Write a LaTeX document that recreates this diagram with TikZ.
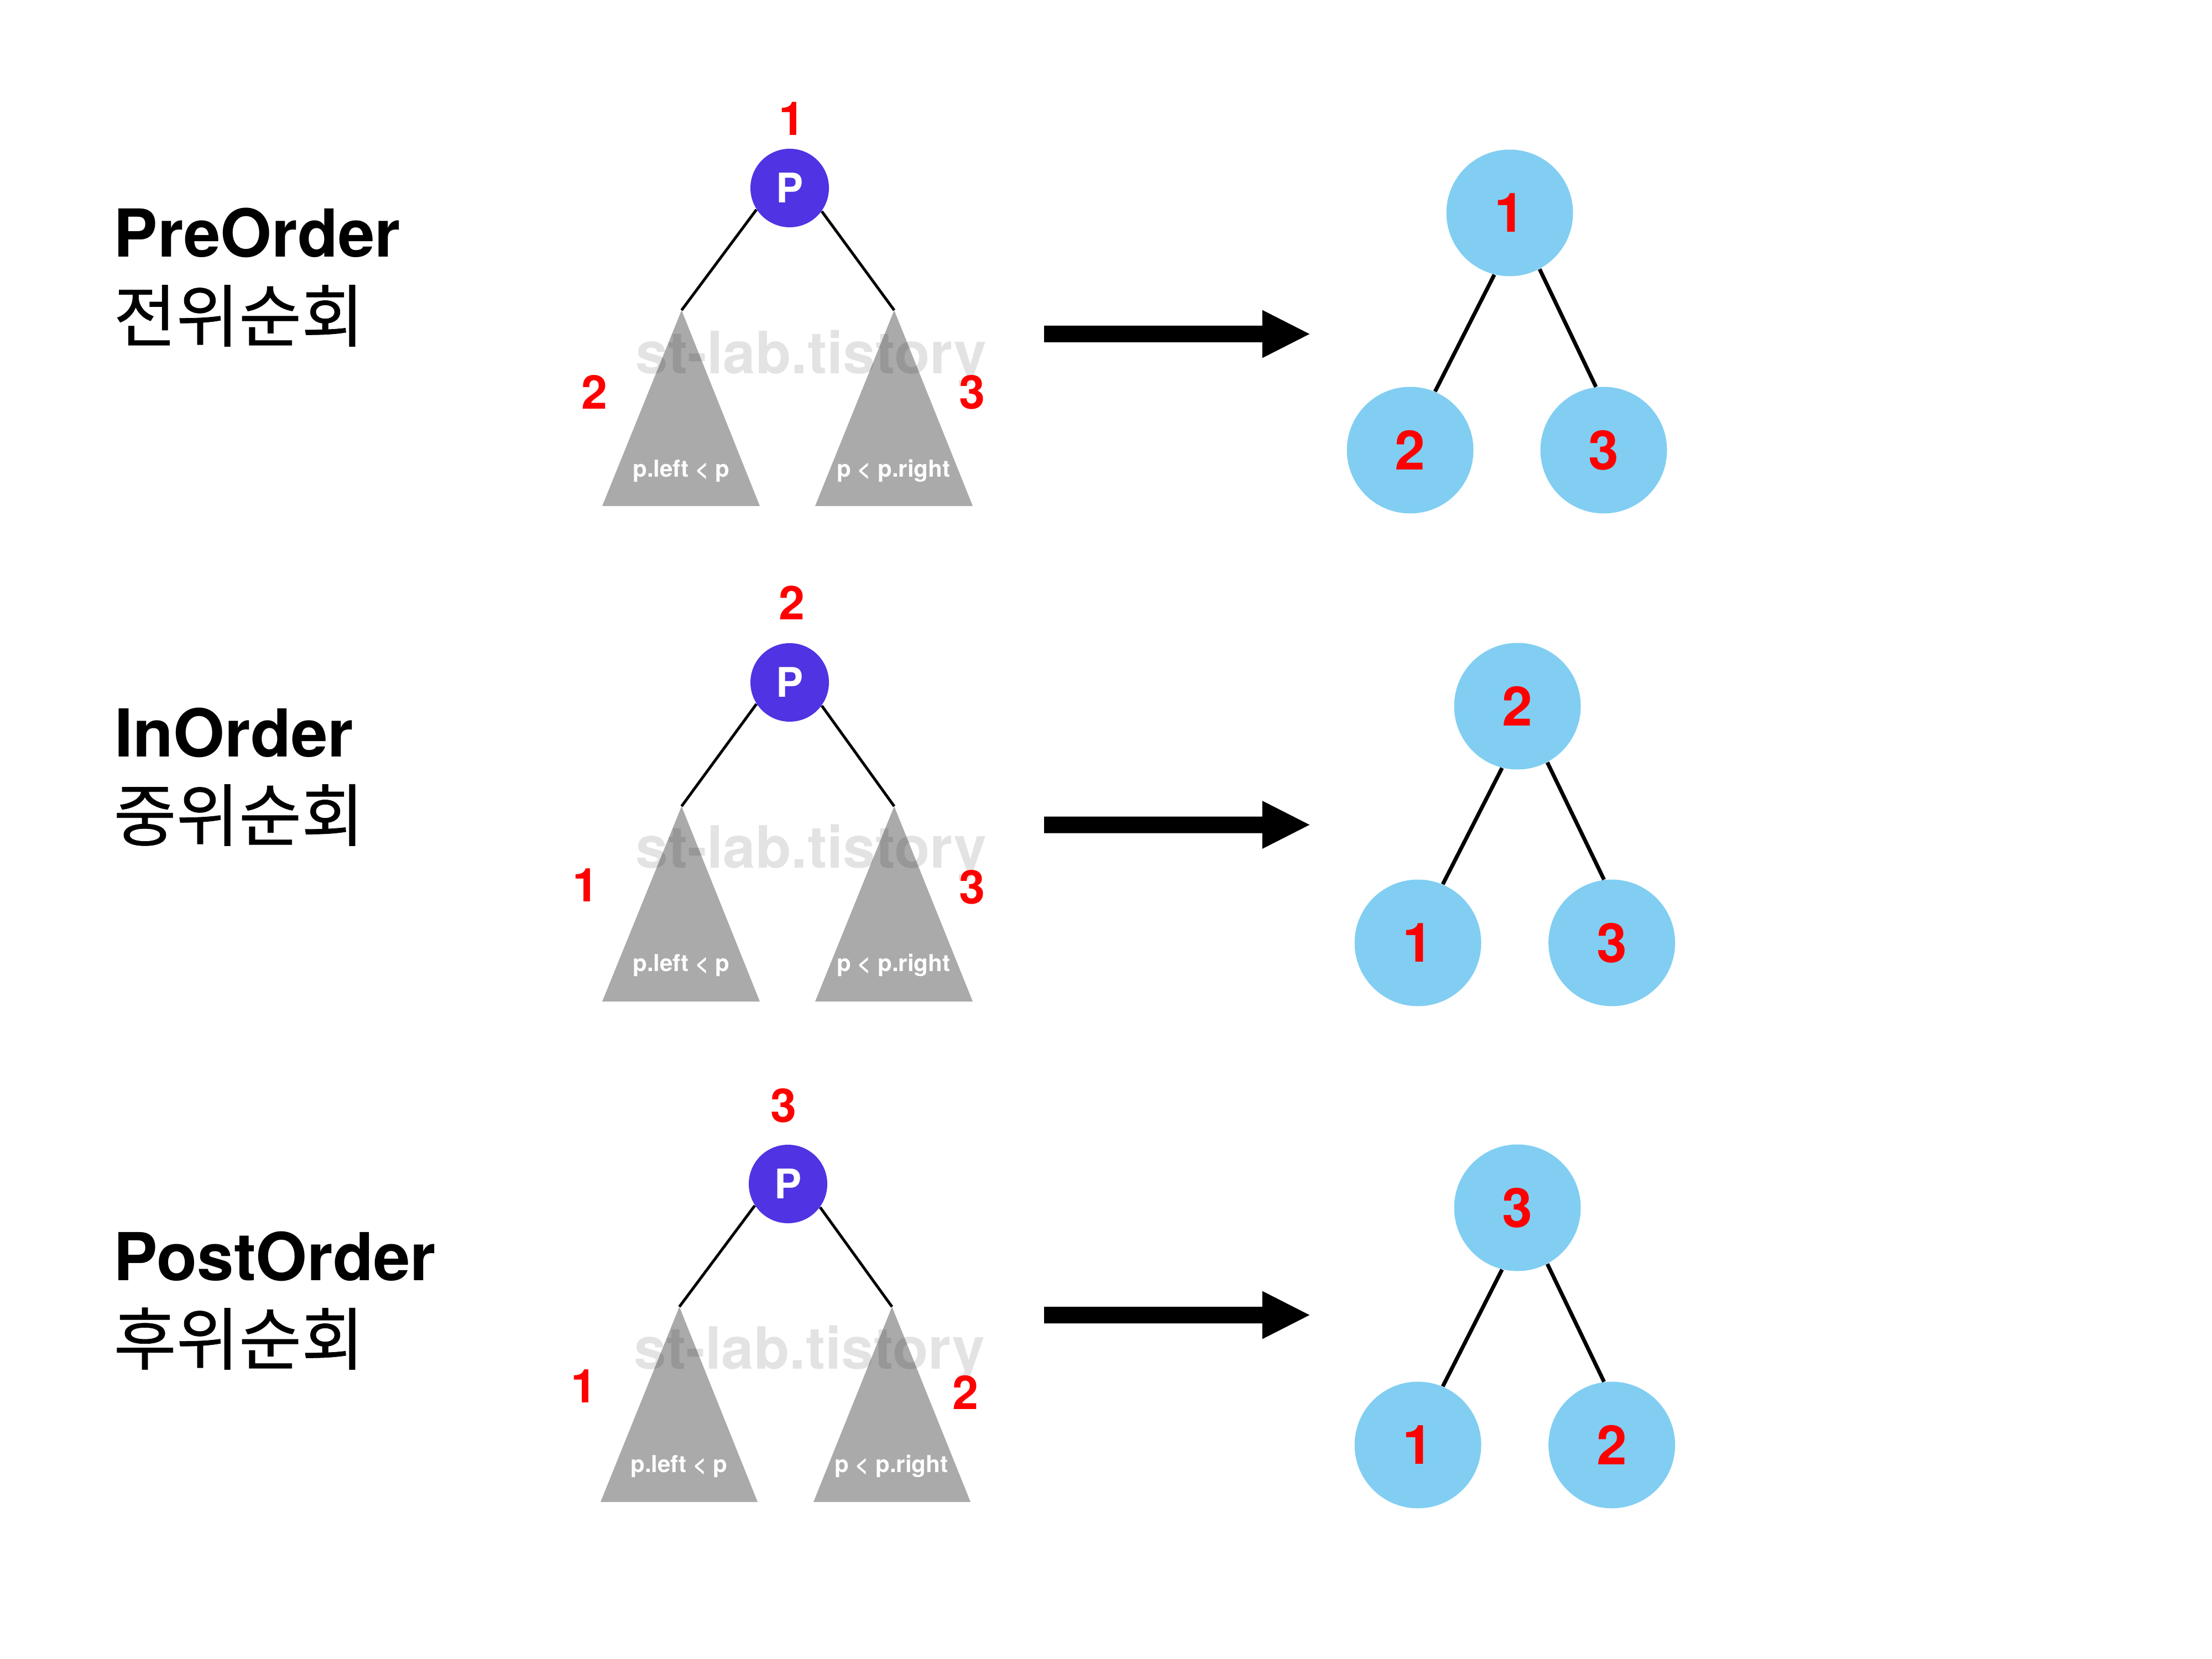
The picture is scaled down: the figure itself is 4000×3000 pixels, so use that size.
\documentclass[tikz,border=0pt]{standalone}
\usepackage{fontspec}
\setmainfont{TeX Gyre Heros}
\newfontfamily\kr[FakeBold=0.6]{Noto Sans CJK KR}
\definecolor{pcol}{HTML}{5033E2}
\definecolor{tricol}{HTML}{AAAAAA}
\definecolor{skycol}{HTML}{81CEF2}
\definecolor{ordred}{HTML}{FF0000}
\begin{document}
\begin{tikzpicture}[x=0.1mm,y=-0.1mm,
  title/.style={anchor=base west, inner sep=0pt, font=\fontsize{34pt}{40pt}\selectfont\bfseries},
  ktitle/.style={anchor=base west, inner sep=0pt, font=\fontsize{35pt}{40pt}\selectfont\kr},
  pnode/.style={circle, fill=pcol, minimum size=14.2mm, inner sep=0pt, text=white, font=\fontsize{21pt}{24pt}\selectfont\bfseries},
  ordlabel/.style={text=ordred, inner sep=0pt, font=\fontsize{24pt}{28pt}\selectfont\bfseries},
  subtxt/.style={anchor=base, inner sep=0pt, text=white, font=\fontsize{12pt}{14pt}\selectfont\bfseries},
  wmark/.style={anchor=base west, inner sep=0pt, text=black, text opacity=0.11, font=\fontsize{30pt}{36pt}\selectfont\bfseries},
  pedge/.style={line width=0.5mm, black},
  subtree/.style={fill=tricol},
  tnode/.style={circle, fill=skycol, minimum size=22.9mm, inner sep=0pt, text=ordred, font=\fontsize{28pt}{32pt}\selectfont\bfseries},
  tedge/.style={line width=0.7mm, black},
  bigarrow/.style={fill=black}
]
\useasboundingbox (0,0) rectangle (4000,3000);

% ---------- titles ----------
\node[title]  (t1) at (205,465)  {PreOrder};
\node[ktitle] (k1) at (205,617)  {전위순회};
\node[title]  (t2) at (207,1368) {InOrder};
\node[ktitle] (k2) at (205,1520) {중위순회};
\node[title]  (t3) at (205,2315) {PostOrder};
\node[ktitle] (k3) at (205,2467) {후위순회};

% ---------- row 1 ----------
\node[pnode] (P1) at (1428,340) {P};
\coordinate (LA1) at (1232.5,561);
\coordinate (RA1) at (1617,561);
\draw[pedge] (P1.213) -- (LA1);
\draw[pedge] (P1.324) -- (RA1);
\fill[subtree] (1089,915) -- (LA1) -- (1374,915) -- cycle;
\fill[subtree] (1474,915) -- (RA1) -- (1759,915) -- cycle;
\node[wmark] (w1) at (1149,675.5) {st-lab.tistory};
\node[subtxt] (s1l) at (1232,862) {p.left < p};
\node[subtxt] (s1r) at (1616,862) {p < p.right};
\node[ordlabel] (n1t) at (1432,215) {1};
\node[ordlabel] (n1l) at (1075,709) {2};
\node[ordlabel] (n1r) at (1758,709) {3};
\coordinate (A1s) at (1888,604);
\coordinate (A1e) at (2368,604);
\fill[bigarrow] (A1s) ++(0,-15) -- ++(394.5,0) -- ++(0,-28.5) -- (A1e) -- ++(-85.5,43.5) -- ++(0,-28.5) -- ++(-394.5,0) -- cycle;
\node[tnode] (T1) at (2730,385) {1};
\node[tnode] (L1) at (2550,814) {2};
\node[tnode] (R1) at (2900,814) {3};
\draw[tedge] (T1.256) -- (L1.67);
\draw[tedge] (T1.298) -- (R1.97);

% ---------- row 2 ----------
\node[pnode] (P2) at (1428,1234) {P};
\coordinate (LA2) at (1232.5,1458);
\coordinate (RA2) at (1617,1458);
\draw[pedge] (P2.213) -- (LA2);
\draw[pedge] (P2.324) -- (RA2);
\fill[subtree] (1089,1811) -- (LA2) -- (1374,1811) -- cycle;
\fill[subtree] (1474,1811) -- (RA2) -- (1759,1811) -- cycle;
\node[wmark] (w2) at (1149,1569.5) {st-lab.tistory};
\node[subtxt] (s2l) at (1232,1756) {p.left < p};
\node[subtxt] (s2r) at (1616,1756) {p < p.right};
\node[ordlabel] (n2t) at (1432,1090) {2};
\node[ordlabel] (n2l) at (1059,1601) {1};
\node[ordlabel] (n2r) at (1758,1604) {3};
\coordinate (A2s) at (1888,1491.5);
\coordinate (A2e) at (2368,1491.5);
\fill[bigarrow] (A2s) ++(0,-15) -- ++(394.5,0) -- ++(0,-28.5) -- (A2e) -- ++(-85.5,43.5) -- ++(0,-28.5) -- ++(-394.5,0) -- cycle;
\node[tnode] (T2) at (2744,1277) {2};
\node[tnode] (L2) at (2564,1705) {1};
\node[tnode] (R2) at (2914.6,1705) {3};
\draw[tedge] (T2.256) -- (L2.67);
\draw[tedge] (T2.298) -- (R2.97);

% ---------- row 3 ----------
\node[pnode] (P3) at (1425,2141) {P};
\coordinate (LA3) at (1228.5,2363);
\coordinate (RA3) at (1613,2363);
\draw[pedge] (P3.213) -- (LA3);
\draw[pedge] (P3.324) -- (RA3);
\fill[subtree] (1086,2716) -- (LA3) -- (1370,2716) -- cycle;
\fill[subtree] (1471,2716) -- (RA3) -- (1755,2716) -- cycle;
\node[wmark] (w3) at (1146,2475) {st-lab.tistory};
\node[subtxt] (s3l) at (1228,2662) {p.left < p};
\node[subtxt] (s3r) at (1612,2662) {p < p.right};
\node[ordlabel] (n3t) at (1417,1999) {3};
\node[ordlabel] (n3l) at (1056,2507) {1};
\node[ordlabel] (n3r) at (1746,2518) {2};
\coordinate (A3s) at (1888,2378);
\coordinate (A3e) at (2368,2378);
\fill[bigarrow] (A3s) ++(0,-15) -- ++(394.5,0) -- ++(0,-28.5) -- (A3e) -- ++(-85.5,43.5) -- ++(0,-28.5) -- ++(-394.5,0) -- cycle;
\node[tnode] (T3) at (2744,2184) {3};
\node[tnode] (L3) at (2564,2613) {1};
\node[tnode] (R3) at (2914.6,2613) {2};
\draw[tedge] (T3.256) -- (L3.67);
\draw[tedge] (T3.298) -- (R3.97);
\end{tikzpicture}
\end{document}
